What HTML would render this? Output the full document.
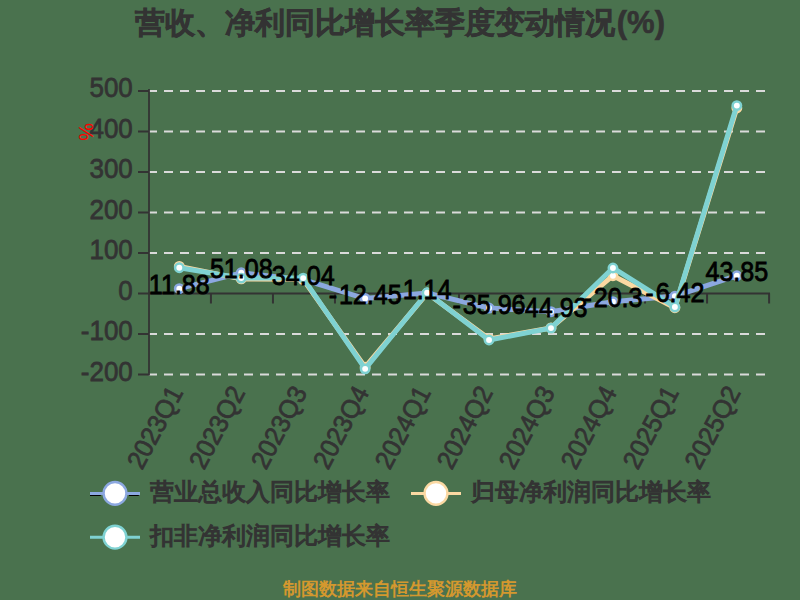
<!DOCTYPE html>
<html><head><meta charset="utf-8"><title>营收、净利同比增长率季度变动情况</title><style>
html,body{margin:0;padding:0;background:#4a724e;overflow:hidden;}
svg{display:block;}
text{font-family:"Liberation Sans", sans-serif;}
</style></head><body>
<svg width="800" height="600" viewBox="0 0 800 600">
<rect x="0" y="0" width="800" height="600" fill="#4a724e"/>
<text x="135" y="32.5" font-size="30" font-weight="bold" fill="#333333" stroke="#333333" stroke-width="0.6">营收、净利同比增长率季度变动情况</text>
<text x="665" y="32.5" text-anchor="end" font-size="31" font-weight="bold" fill="#333333" stroke="#333333" stroke-width="0.6">(%)</text>

<line x1="148" y1="91.00" x2="769" y2="91.00" stroke="#dadada" stroke-width="2" stroke-dasharray="9 7"/>
<line x1="138" y1="91.00" x2="149" y2="91.00" stroke="#333333" stroke-width="2"/>
<text transform="translate(132.8 97.30) scale(1 1.09)" text-anchor="end" font-size="26" fill="#333333" stroke="#333333" stroke-width="0.7">500</text>
<line x1="148" y1="131.50" x2="769" y2="131.50" stroke="#dadada" stroke-width="2" stroke-dasharray="9 7"/>
<line x1="138" y1="131.50" x2="149" y2="131.50" stroke="#333333" stroke-width="2"/>
<text transform="translate(132.8 137.80) scale(1 1.09)" text-anchor="end" font-size="26" fill="#333333" stroke="#333333" stroke-width="0.7">400</text>
<line x1="148" y1="172.00" x2="769" y2="172.00" stroke="#dadada" stroke-width="2" stroke-dasharray="9 7"/>
<line x1="138" y1="172.00" x2="149" y2="172.00" stroke="#333333" stroke-width="2"/>
<text transform="translate(132.8 178.30) scale(1 1.09)" text-anchor="end" font-size="26" fill="#333333" stroke="#333333" stroke-width="0.7">300</text>
<line x1="148" y1="212.50" x2="769" y2="212.50" stroke="#dadada" stroke-width="2" stroke-dasharray="9 7"/>
<line x1="138" y1="212.50" x2="149" y2="212.50" stroke="#333333" stroke-width="2"/>
<text transform="translate(132.8 218.80) scale(1 1.09)" text-anchor="end" font-size="26" fill="#333333" stroke="#333333" stroke-width="0.7">200</text>
<line x1="148" y1="253.00" x2="769" y2="253.00" stroke="#dadada" stroke-width="2" stroke-dasharray="9 7"/>
<line x1="138" y1="253.00" x2="149" y2="253.00" stroke="#333333" stroke-width="2"/>
<text transform="translate(132.8 259.30) scale(1 1.09)" text-anchor="end" font-size="26" fill="#333333" stroke="#333333" stroke-width="0.7">100</text>
<line x1="138" y1="293.50" x2="149" y2="293.50" stroke="#333333" stroke-width="2"/>
<text transform="translate(132.8 299.80) scale(1 1.09)" text-anchor="end" font-size="26" fill="#333333" stroke="#333333" stroke-width="0.7">0</text>
<line x1="148" y1="334.00" x2="769" y2="334.00" stroke="#dadada" stroke-width="2" stroke-dasharray="9 7"/>
<line x1="138" y1="334.00" x2="149" y2="334.00" stroke="#333333" stroke-width="2"/>
<text transform="translate(132.8 340.30) scale(1 1.09)" text-anchor="end" font-size="26" fill="#333333" stroke="#333333" stroke-width="0.7">-100</text>
<line x1="148" y1="374.50" x2="769" y2="374.50" stroke="#dadada" stroke-width="2" stroke-dasharray="9 7"/>
<line x1="138" y1="374.50" x2="149" y2="374.50" stroke="#333333" stroke-width="2"/>
<text transform="translate(132.8 380.80) scale(1 1.09)" text-anchor="end" font-size="26" fill="#333333" stroke="#333333" stroke-width="0.7">-200</text>
<line x1="149" y1="89.00" x2="149" y2="375.50" stroke="#333333" stroke-width="1.8"/>
<line x1="148" y1="293.50" x2="770" y2="293.50" stroke="#333333" stroke-width="2"/>
<line x1="210.92" y1="293.50" x2="210.92" y2="303.50" stroke="#333333" stroke-width="2"/>
<line x1="272.94" y1="293.50" x2="272.94" y2="303.50" stroke="#333333" stroke-width="2"/>
<line x1="334.96" y1="293.50" x2="334.96" y2="303.50" stroke="#333333" stroke-width="2"/>
<line x1="396.98" y1="293.50" x2="396.98" y2="303.50" stroke="#333333" stroke-width="2"/>
<line x1="459.00" y1="293.50" x2="459.00" y2="303.50" stroke="#333333" stroke-width="2"/>
<line x1="521.02" y1="293.50" x2="521.02" y2="303.50" stroke="#333333" stroke-width="2"/>
<line x1="583.04" y1="293.50" x2="583.04" y2="303.50" stroke="#333333" stroke-width="2"/>
<line x1="645.06" y1="293.50" x2="645.06" y2="303.50" stroke="#333333" stroke-width="2"/>
<line x1="707.08" y1="293.50" x2="707.08" y2="303.50" stroke="#333333" stroke-width="2"/>
<line x1="769.10" y1="293.50" x2="769.10" y2="303.50" stroke="#333333" stroke-width="2"/>
<text text-anchor="end" dominant-baseline="middle" font-size="25" fill="#333333" stroke="#333333" stroke-width="0.7" transform="translate(177.70 389.00) rotate(-62) scale(1 1.05)">2023Q1</text>
<text text-anchor="end" dominant-baseline="middle" font-size="25" fill="#333333" stroke="#333333" stroke-width="0.7" transform="translate(239.65 389.00) rotate(-62) scale(1 1.05)">2023Q2</text>
<text text-anchor="end" dominant-baseline="middle" font-size="25" fill="#333333" stroke="#333333" stroke-width="0.7" transform="translate(301.60 389.00) rotate(-62) scale(1 1.05)">2023Q3</text>
<text text-anchor="end" dominant-baseline="middle" font-size="25" fill="#333333" stroke="#333333" stroke-width="0.7" transform="translate(363.55 389.00) rotate(-62) scale(1 1.05)">2023Q4</text>
<text text-anchor="end" dominant-baseline="middle" font-size="25" fill="#333333" stroke="#333333" stroke-width="0.7" transform="translate(425.50 389.00) rotate(-62) scale(1 1.05)">2024Q1</text>
<text text-anchor="end" dominant-baseline="middle" font-size="25" fill="#333333" stroke="#333333" stroke-width="0.7" transform="translate(487.45 389.00) rotate(-62) scale(1 1.05)">2024Q2</text>
<text text-anchor="end" dominant-baseline="middle" font-size="25" fill="#333333" stroke="#333333" stroke-width="0.7" transform="translate(549.40 389.00) rotate(-62) scale(1 1.05)">2024Q3</text>
<text text-anchor="end" dominant-baseline="middle" font-size="25" fill="#333333" stroke="#333333" stroke-width="0.7" transform="translate(611.35 389.00) rotate(-62) scale(1 1.05)">2024Q4</text>
<text text-anchor="end" dominant-baseline="middle" font-size="25" fill="#333333" stroke="#333333" stroke-width="0.7" transform="translate(673.30 389.00) rotate(-62) scale(1 1.05)">2025Q1</text>
<text text-anchor="end" dominant-baseline="middle" font-size="25" fill="#333333" stroke="#333333" stroke-width="0.7" transform="translate(735.25 389.00) rotate(-62) scale(1 1.05)">2025Q2</text>
<text text-anchor="middle" dominant-baseline="central" font-size="20" fill="#ff0000" transform="translate(86 132) rotate(90) scale(1.0 1)">%</text>
<polyline points="179.30,288.69 241.25,272.81 303.20,279.71 365.15,298.54 427.10,293.04 489.05,308.06 551.00,311.70 612.95,301.72 674.90,296.10 736.85,275.74" fill="none" stroke="#8ca8e0" stroke-width="5" stroke-linejoin="round"/><circle cx="179.30" cy="288.69" r="4.2" fill="#ffffff" stroke="#8ca8e0" stroke-width="2.5"/><circle cx="241.25" cy="272.81" r="4.2" fill="#ffffff" stroke="#8ca8e0" stroke-width="2.5"/><circle cx="303.20" cy="279.71" r="4.2" fill="#ffffff" stroke="#8ca8e0" stroke-width="2.5"/><circle cx="365.15" cy="298.54" r="4.2" fill="#ffffff" stroke="#8ca8e0" stroke-width="2.5"/><circle cx="427.10" cy="293.04" r="4.2" fill="#ffffff" stroke="#8ca8e0" stroke-width="2.5"/><circle cx="489.05" cy="308.06" r="4.2" fill="#ffffff" stroke="#8ca8e0" stroke-width="2.5"/><circle cx="551.00" cy="311.70" r="4.2" fill="#ffffff" stroke="#8ca8e0" stroke-width="2.5"/><circle cx="612.95" cy="301.72" r="4.2" fill="#ffffff" stroke="#8ca8e0" stroke-width="2.5"/><circle cx="674.90" cy="296.10" r="4.2" fill="#ffffff" stroke="#8ca8e0" stroke-width="2.5"/><circle cx="736.85" cy="275.74" r="4.2" fill="#ffffff" stroke="#8ca8e0" stroke-width="2.5"/>
<polyline points="179.30,266.37 241.25,278.92 303.20,279.32 365.15,367.21 427.10,293.30 489.05,338.86 551.00,327.93 612.95,275.68 674.90,307.68 736.85,108.01" fill="none" stroke="#fbd9a3" stroke-width="5" stroke-linejoin="round"/><circle cx="179.30" cy="266.37" r="4.2" fill="#ffffff" stroke="#fbd9a3" stroke-width="2.5"/><circle cx="241.25" cy="278.92" r="4.2" fill="#ffffff" stroke="#fbd9a3" stroke-width="2.5"/><circle cx="303.20" cy="279.32" r="4.2" fill="#ffffff" stroke="#fbd9a3" stroke-width="2.5"/><circle cx="365.15" cy="367.21" r="4.2" fill="#ffffff" stroke="#fbd9a3" stroke-width="2.5"/><circle cx="427.10" cy="293.30" r="4.2" fill="#ffffff" stroke="#fbd9a3" stroke-width="2.5"/><circle cx="489.05" cy="338.86" r="4.2" fill="#ffffff" stroke="#fbd9a3" stroke-width="2.5"/><circle cx="551.00" cy="327.93" r="4.2" fill="#ffffff" stroke="#fbd9a3" stroke-width="2.5"/><circle cx="612.95" cy="275.68" r="4.2" fill="#ffffff" stroke="#fbd9a3" stroke-width="2.5"/><circle cx="674.90" cy="307.68" r="4.2" fill="#ffffff" stroke="#fbd9a3" stroke-width="2.5"/><circle cx="736.85" cy="108.01" r="4.2" fill="#ffffff" stroke="#fbd9a3" stroke-width="2.5"/>
<polyline points="179.30,267.74 241.25,278.11 303.20,278.11 365.15,368.83 427.10,292.77 489.05,339.99 551.00,328.09 612.95,267.99 674.90,306.99 736.85,105.58" fill="none" stroke="#7fd2d2" stroke-width="5" stroke-linejoin="round"/><circle cx="179.30" cy="267.74" r="4.2" fill="#ffffff" stroke="#7fd2d2" stroke-width="2.5"/><circle cx="241.25" cy="278.11" r="4.2" fill="#ffffff" stroke="#7fd2d2" stroke-width="2.5"/><circle cx="303.20" cy="278.11" r="4.2" fill="#ffffff" stroke="#7fd2d2" stroke-width="2.5"/><circle cx="365.15" cy="368.83" r="4.2" fill="#ffffff" stroke="#7fd2d2" stroke-width="2.5"/><circle cx="427.10" cy="292.77" r="4.2" fill="#ffffff" stroke="#7fd2d2" stroke-width="2.5"/><circle cx="489.05" cy="339.99" r="4.2" fill="#ffffff" stroke="#7fd2d2" stroke-width="2.5"/><circle cx="551.00" cy="328.09" r="4.2" fill="#ffffff" stroke="#7fd2d2" stroke-width="2.5"/><circle cx="612.95" cy="267.99" r="4.2" fill="#ffffff" stroke="#7fd2d2" stroke-width="2.5"/><circle cx="674.90" cy="306.99" r="4.2" fill="#ffffff" stroke="#7fd2d2" stroke-width="2.5"/><circle cx="736.85" cy="105.58" r="4.2" fill="#ffffff" stroke="#7fd2d2" stroke-width="2.5"/>
<text transform="translate(179.30 294.19) scale(0.965 1.09)" text-anchor="middle" font-size="26" fill="#000" stroke="#000" stroke-width="0.8">11.88</text>
<text transform="translate(241.25 278.31) scale(0.965 1.09)" text-anchor="middle" font-size="26" fill="#000" stroke="#000" stroke-width="0.8">51.08</text>
<text transform="translate(303.20 285.21) scale(0.965 1.09)" text-anchor="middle" font-size="26" fill="#000" stroke="#000" stroke-width="0.8">34.04</text>
<text transform="translate(365.15 304.04) scale(0.965 1.09)" text-anchor="middle" font-size="26" fill="#000" stroke="#000" stroke-width="0.8">-<tspan dx="2">12.45</tspan></text>
<text transform="translate(427.10 298.54) scale(0.965 1.09)" text-anchor="middle" font-size="26" fill="#000" stroke="#000" stroke-width="0.8">1.14</text>
<text transform="translate(489.05 313.56) scale(0.965 1.09)" text-anchor="middle" font-size="26" fill="#000" stroke="#000" stroke-width="0.8">-<tspan dx="2">35.96</tspan></text>
<text transform="translate(551.00 317.20) scale(0.965 1.09)" text-anchor="middle" font-size="26" fill="#000" stroke="#000" stroke-width="0.8">-<tspan dx="2">44.93</tspan></text>
<text transform="translate(612.95 307.22) scale(0.965 1.09)" text-anchor="middle" font-size="26" fill="#000" stroke="#000" stroke-width="0.8">-<tspan dx="2">20.3</tspan></text>
<text transform="translate(674.90 301.60) scale(0.965 1.09)" text-anchor="middle" font-size="26" fill="#000" stroke="#000" stroke-width="0.8">-<tspan dx="2">6.42</tspan></text>
<text transform="translate(736.85 281.24) scale(0.965 1.09)" text-anchor="middle" font-size="26" fill="#000" stroke="#000" stroke-width="0.8">43.85</text>
<line x1="90" y1="495.5" x2="100.8" y2="495.5" stroke="#000" stroke-width="1"/><line x1="129" y1="495.5" x2="138.8" y2="495.5" stroke="#000" stroke-width="1"/>
<line x1="90.0" y1="493.4" x2="140.0" y2="493.4" stroke="#8ca8e0" stroke-width="3"/><circle cx="115.0" cy="493.4" r="11.4" fill="#fff" stroke="#8ca8e0" stroke-width="2.4"/><text x="150.0" y="500.4" font-size="24" fill="#333333" stroke="#333333" stroke-width="1.2">营业总收入同比增长率</text>
<line x1="411.0" y1="493.4" x2="461.0" y2="493.4" stroke="#fbd9a3" stroke-width="3"/><circle cx="436.0" cy="493.4" r="11.4" fill="#fff" stroke="#fbd9a3" stroke-width="2.4"/><text x="471.0" y="500.4" font-size="24" fill="#333333" stroke="#333333" stroke-width="1.2">归母净利润同比增长率</text>
<line x1="90.0" y1="537.2" x2="140.0" y2="537.2" stroke="#7fd2d2" stroke-width="3"/><circle cx="115.0" cy="537.2" r="11.4" fill="#fff" stroke="#7fd2d2" stroke-width="2.4"/><text x="150.0" y="544.2" font-size="24" fill="#333333" stroke="#333333" stroke-width="1.2">扣非净利润同比增长率</text>
<text x="400" y="595" text-anchor="middle" font-size="17.8" font-weight="bold" fill="#d4982e">制图数据来自恒生聚源数据库</text>
</svg></body></html>
